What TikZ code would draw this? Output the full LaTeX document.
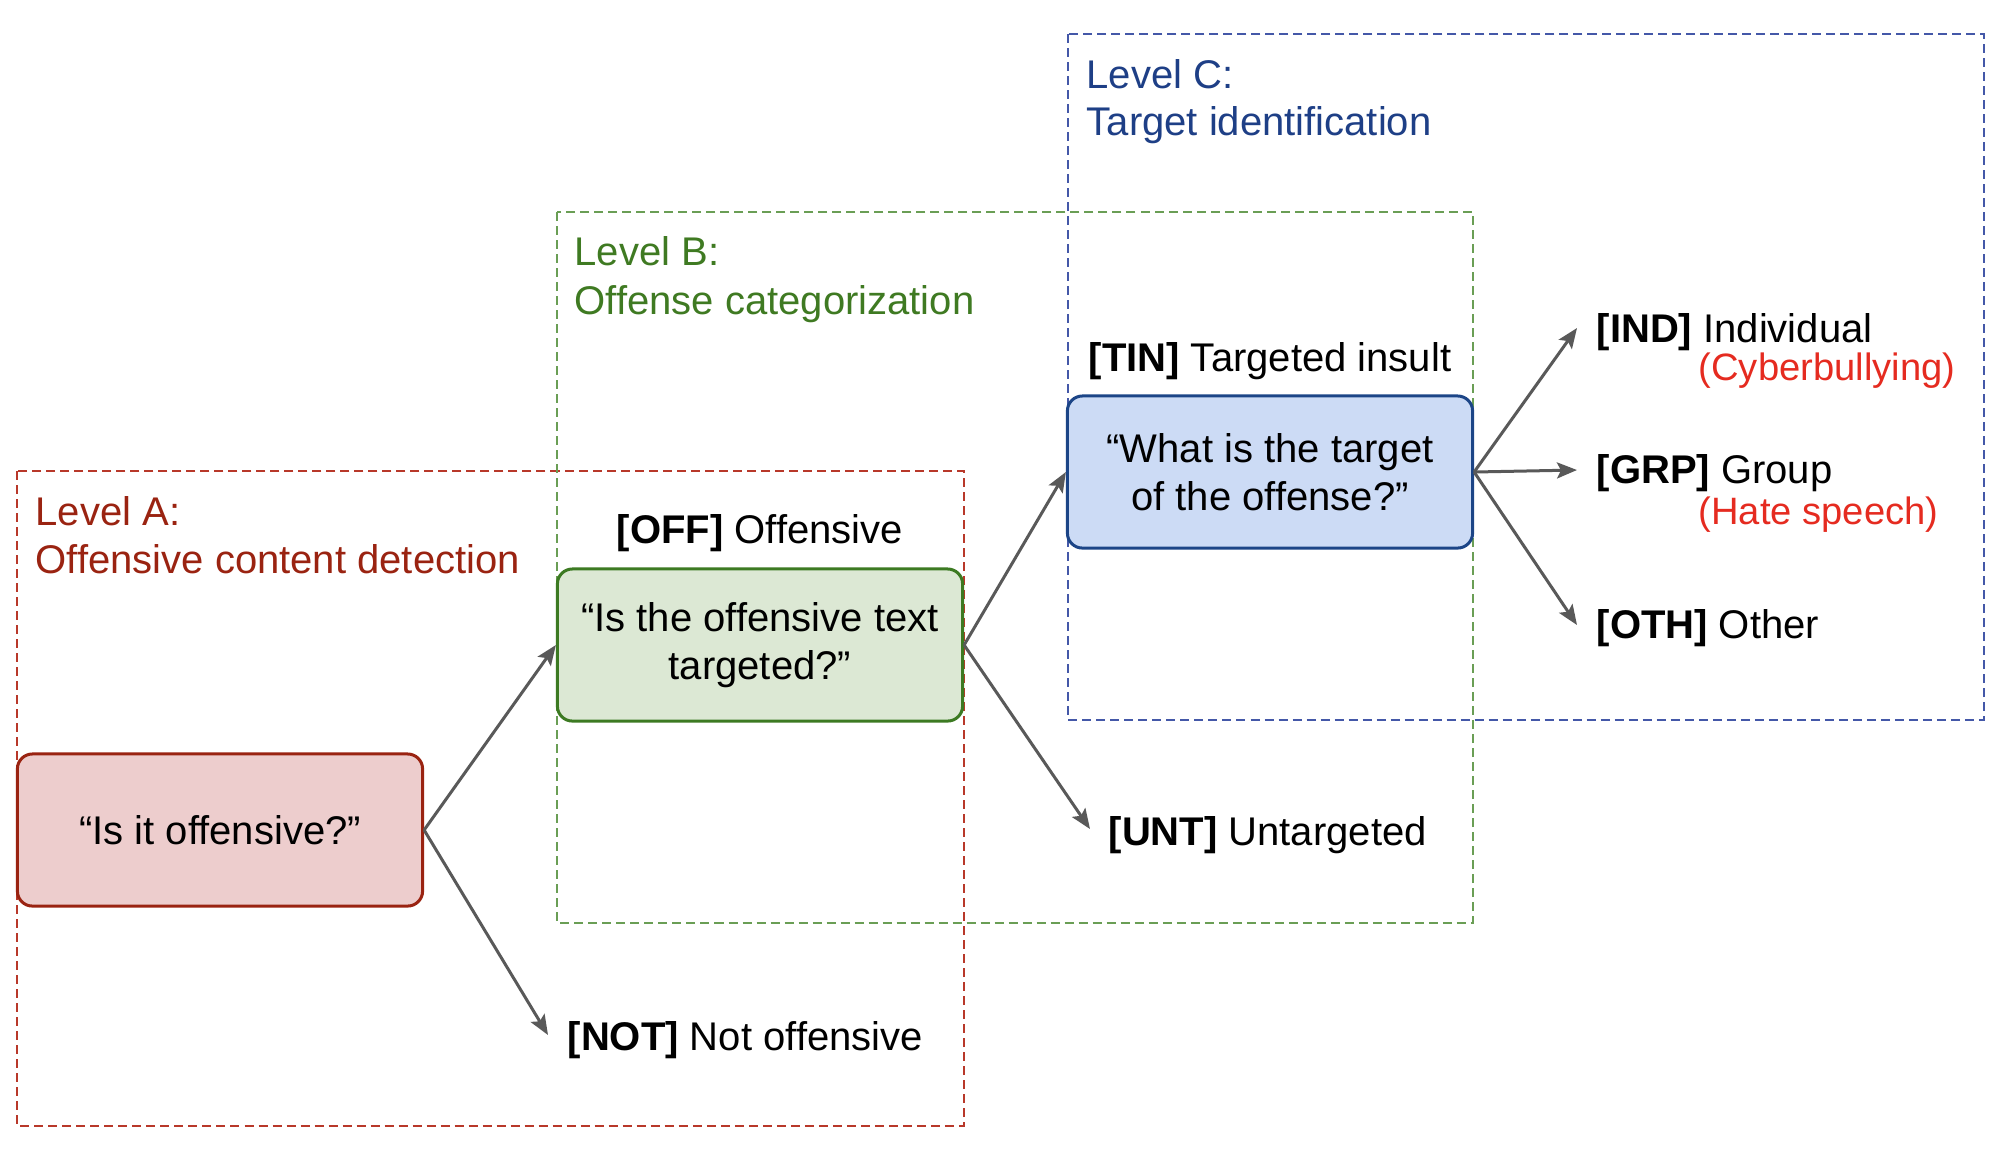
\documentclass[tikz,border=0pt]{standalone}
\usepackage{fontspec}
\setmainfont{Liberation Sans}
\usetikzlibrary{arrows.meta}
\definecolor{redtxt}{HTML}{9A2311}
\definecolor{redfill}{HTML}{EDCDCD}
\definecolor{reddash}{HTML}{B8382A}
\definecolor{greentxt}{HTML}{3F7A22}
\definecolor{greenfill}{HTML}{DCE8D4}
\definecolor{greenline}{HTML}{3C7A22}
\definecolor{greendash}{HTML}{6A9E55}
\definecolor{bluetxt}{HTML}{1E3F86}
\definecolor{bluefill}{HTML}{CCDBF5}
\definecolor{blueline}{HTML}{1C4587}
\definecolor{bluedash}{HTML}{4458A8}
\definecolor{hot}{HTML}{E52B20}
\definecolor{arrowgray}{HTML}{595959}
\begin{document}
\begin{tikzpicture}[x=0.01cm,y=-0.01cm,
  every node/.style={font=\fontsize{11.38pt}{13.66pt}\selectfont, inner sep=0pt},
  qbox/.style={rounded corners=0.15cm, line width=0.03cm, minimum width=4.05cm, minimum height=1.52cm, align=center},
  dbox/.style={line width=0.02cm, dash pattern=on 0.09cm off 0.05cm},
  lbl/.style={anchor=base west},
  note/.style={anchor=base west, text=hot, font=\fontsize{10.85pt}{13pt}\selectfont},
  arr/.style={draw=arrowgray, line width=0.03cm, -{Stealth[length=0.2cm,width=0.16cm,inset=0.04cm]}}
]
\useasboundingbox (0,0) rectangle (1999,1156);

% dashed level frames
\draw[dbox, draw=reddash] (17,471) rectangle (964,1126);
\draw[dbox, draw=greendash] (557,212) rectangle (1473,923);
\draw[dbox, draw=bluedash] (1068,34) rectangle (1984,720);

% level titles
\node[lbl, text=redtxt] (la1) at (35,525) {Level A:};
\node[lbl, text=redtxt] (la2) at (35,573) {Offensive content detection};
\node[lbl, text=greentxt] (lb1) at (574,265) {Level B:};
\node[lbl, text=greentxt] (lb2) at (574,314) {Offense categorization};
\node[lbl, text=bluetxt] (lc1) at (1086,88) {Level C:};
\node[lbl, text=bluetxt] (lc2) at (1086,135) {Target identification};

% question boxes
\node[qbox, draw=redtxt, fill=redfill] (qa) at (220,830) {“Is it offensive?”};
\node[qbox, draw=greenline, fill=greenfill] (qb) at (760,645) {“Is the offensive text\\targeted?”};
\node[qbox, draw=blueline, fill=bluefill] (qc) at (1270,472) {“What is the target\\of the offense?”};

% category labels
\node[anchor=base] (off) at (760,543) {\textbf{[OFF]} Offensive};
\node[anchor=base] (tin) at (1270,371) {\textbf{[TIN]} Targeted insult};
\node[lbl] (not) at (567,1050) {\textbf{[NOT]} Not offensive};
\node[lbl] (unt) at (1108,845) {\textbf{[UNT]} Untargeted};
\node[lbl] (ind) at (1596,342) {\textbf{[IND]} Individual};
\node[note] (cyb) at (1698,380) {(Cyberbullying)};
\node[lbl] (grp) at (1596,483) {\textbf{[GRP]} Group};
\node[note] (hate) at (1698,524) {(Hate speech)};
\node[lbl] (oth) at (1596,638) {\textbf{[OTH]} Other};

% arrow end points
\coordinate (notend) at (548,1035);
\coordinate (untend) at (1090,829);
\coordinate (indend) at (1577,328);
\coordinate (grpend) at (1577,470);
\coordinate (othend) at (1577,625);

% connectors
\draw[arr] (qa.east) -- (qb.west);
\draw[arr] (qa.east) -- (notend);
\draw[arr] (qb.east) -- (qc.west);
\draw[arr] (qb.east) -- (untend);
\draw[arr] (qc.east) -- (indend);
\draw[arr] (qc.east) -- (grpend);
\draw[arr] (qc.east) -- (othend);
\end{tikzpicture}
\end{document}
